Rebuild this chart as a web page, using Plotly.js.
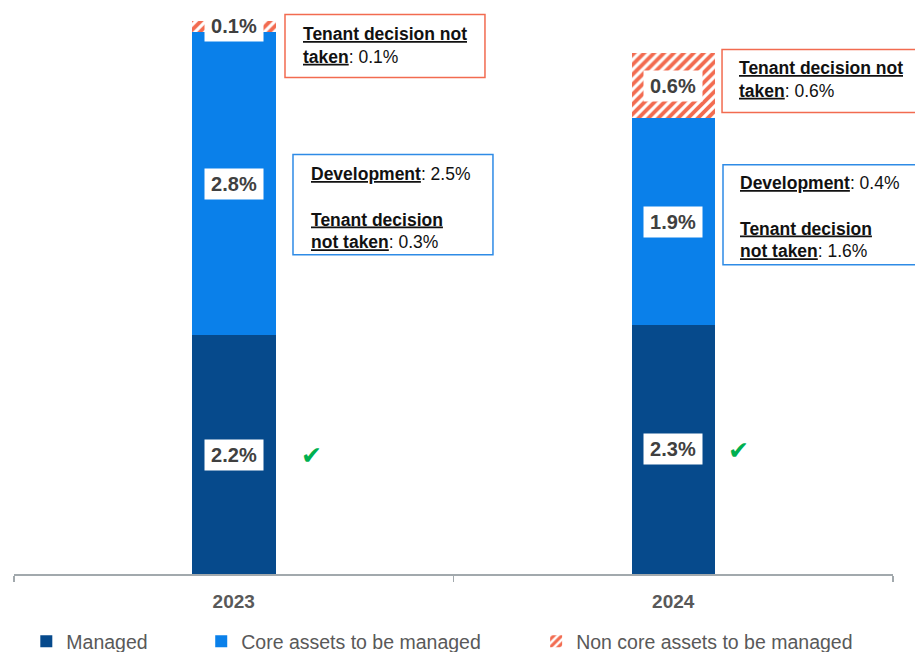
<!DOCTYPE html>
<html>
<head>
<meta charset="utf-8">
<script src="https://cdn.plot.ly/plotly-3.0.1.min.js"></script>
<style>html,body{margin:0;padding:0;background:#fff;}#chart{width:915px;height:652px;}</style>
</head>
<body>
<div id="chart"></div>
<script>
// ---- data ----
const categories = ['2023', '2024'];
const managed = [2.2, 2.3];
const coreAssets = [2.8, 1.9];
const nonCoreAssets = [0.1, 0.6];
const coreDevelopment = [2.5, 0.4];
const coreTenantNotTaken = [0.3, 1.6];
const nonCoreTenantNotTaken = [0.1, 0.6];
const seriesNames = ['Managed', 'Core assets to be managed', 'Non core assets to be managed'];

// ---- style ----
const cManaged = '#064A8C';
const cCore = '#0A80EA';
const cNonCore = '#F26B50';
const labelColor = '#404040';
const FONT = 'Liberation Sans, Arial, sans-serif';

const traces = [
  {type: 'bar', name: seriesNames[0], x: categories, y: managed,
   marker: {color: cManaged, line: {width: 0}}, legend: 'legend', hoverinfo: 'skip'},
  {type: 'bar', name: seriesNames[1], x: categories, y: coreAssets,
   marker: {color: cCore, line: {width: 0}}, legend: 'legend2', hoverinfo: 'skip'},
  {type: 'bar', name: seriesNames[2], x: categories, y: nonCoreAssets,
   marker: {color: '#ffffff', line: {width: 0},
            pattern: {shape: '/', fgcolor: cNonCore, fgopacity: 1, bgcolor: '#ffffff', size: 7, solidity: 0.55, fillmode: 'overlay'}},
   legend: 'legend3', hoverinfo: 'skip'}
];

// value labels (white boxes) at segment centres
const annotations = [];
const fmt = v => v.toFixed(1) + '%';
categories.forEach((c, i) => {
  const segs = [managed[i], coreAssets[i], nonCoreAssets[i]];
  let base = 0;
  segs.forEach(v => {
    annotations.push({x: i, y: base + v / 2, xref: 'x', yref: 'y', text: '<b>' + fmt(v) + '</b>',
      showarrow: false, bgcolor: '#ffffff', width: 58, height: 30, borderpad: 0,
      font: {family: FONT, size: 20, color: labelColor}});
    base += v;
  });
});

// callout texts
const u = s => '<b><u>' + s + '</u></b>';
const callouts = [
  {x: 0.3265, y: 0.9371, text: u('Tenant decision not') + '<br>' + u('taken') + ': ' + fmt(nonCoreTenantNotTaken[0])},
  {x: 0.3356, y: 0.6498, text: u('Development') + ': ' + fmt(coreDevelopment[0]) + '<br> <br>' + u('Tenant decision') + '<br>' + u('not taken') + ': ' + fmt(coreTenantNotTaken[0])},
  {x: 0.8226, y: 0.8759, text: u('Tenant decision not') + '<br>' + u('taken') + ': ' + fmt(nonCoreTenantNotTaken[1])},
  {x: 0.8237, y: 0.6330, text: u('Development') + ': ' + fmt(coreDevelopment[1]) + '<br> <br>' + u('Tenant decision') + '<br>' + u('not taken') + ': ' + fmt(coreTenantNotTaken[1])}
];
callouts.forEach(c => annotations.push({xref: 'paper', yref: 'paper', x: c.x, y: c.y, xanchor: 'left', yanchor: 'middle',
  align: 'left', showarrow: false, text: c.text, font: {family: FONT, size: 17.5, color: '#111111'}}));

// check marks
[[0.3379, 0.180], [0.8385, 0.189]].forEach(p => annotations.push({xref: 'paper', yref: 'paper', x: p[0], y: p[1],
  text: '✔', showarrow: false, font: {family: 'DejaVu Sans', size: 25, color: '#00B050'}}));

// callout frames
const shapes = [
  {x0: 0.3083, x1: 0.5358, y0: 0.8801, y1: 0.9920, col: cNonCore},
  {x0: 0.3174, x1: 0.5449, y0: 0.5661, y1: 0.7436, col: '#2E8BE6'},
  {x0: 0.8055, x1: 1.05, y0: 0.8181, y1: 0.9299, col: cNonCore},
  {x0: 0.8066, x1: 1.05, y0: 0.5483, y1: 0.7258, col: '#2E8BE6'}
].map(s => ({type: 'rect', xref: 'paper', yref: 'paper', x0: s.x0, x1: s.x1, y0: s.y0, y1: s.y1,
  line: {color: s.col, width: 1.5}, fillcolor: 'rgba(0,0,0,0)'}));

const legendBase = {orientation: 'h', yanchor: 'middle', xanchor: 'left', y: -0.12, bgcolor: 'rgba(0,0,0,0)',
  font: {family: FONT, size: 19.5, color: '#595959'}, itemwidth: 30};

const layout = {
  width: 915, height: 652,
  margin: {l: 14, r: 22, t: 10, b: 78, autoexpand: false},
  paper_bgcolor: '#ffffff', plot_bgcolor: '#ffffff',
  barmode: 'stack', bargap: 0.81,
  showlegend: true,
  legend: Object.assign({}, legendBase, {x: 0.014}),
  legend2: Object.assign({}, legendBase, {x: 0.213}),
  legend3: Object.assign({}, legendBase, {x: 0.594}),
  xaxis: {type: 'category', range: [-0.5, 1.5], autorange: false, showline: true, linecolor: '#A2A9AD', linewidth: 1.5,
    ticks: 'outside', tickson: 'boundaries', ticklen: 6, tickcolor: '#A2A9AD', tickwidth: 1.5,
    tickfont: {family: FONT, size: 19, color: '#595959', weight: 'bold'}, ticklabelstandoff: 10,
    showgrid: false, zeroline: false, fixedrange: true, automargin: false},
  yaxis: {visible: false, range: [0, 5.2], autorange: false, showgrid: false, zeroline: false, fixedrange: true},
  annotations: annotations,
  shapes: shapes
};

Plotly.newPlot('chart', traces, layout, {displayModeBar: false, staticPlot: true});
</script>
</body>
</html>
